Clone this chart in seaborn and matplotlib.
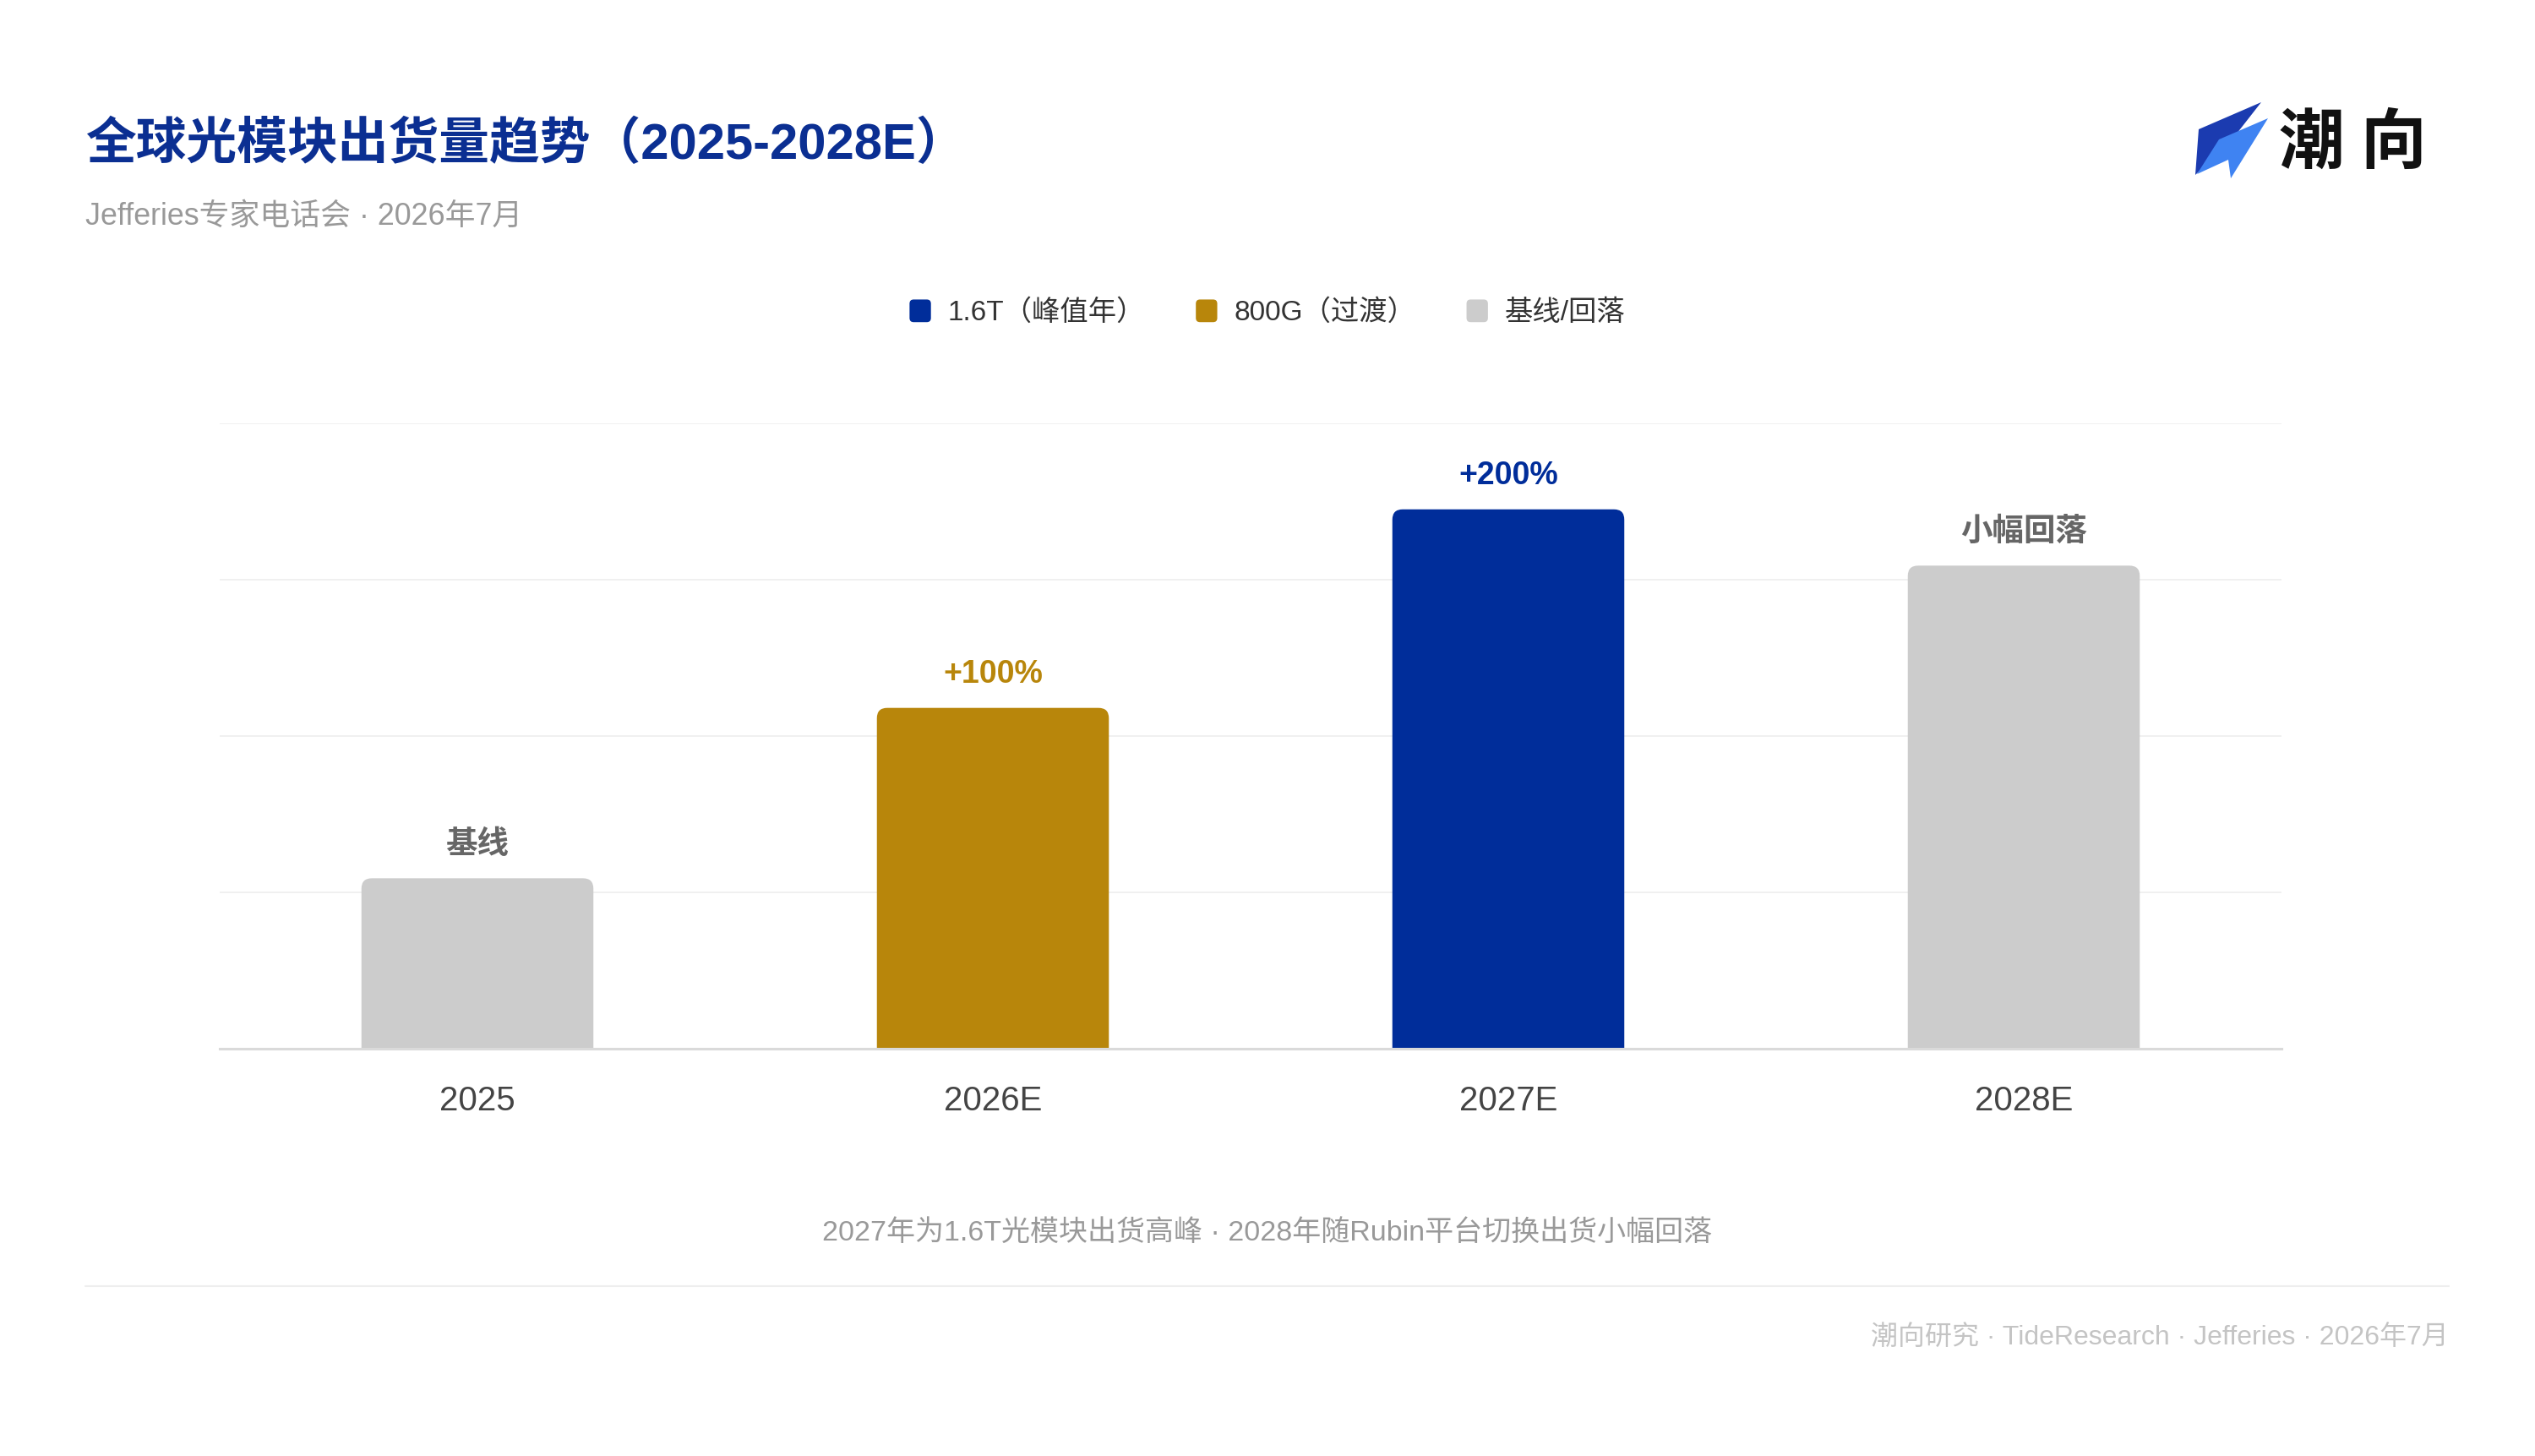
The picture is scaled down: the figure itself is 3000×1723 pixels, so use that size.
import matplotlib
matplotlib.use("Agg")
import matplotlib.pyplot as plt
import seaborn as sns
import pandas as pd
from matplotlib.patches import FancyBboxPatch, Polygon, Patch
from matplotlib.lines import Line2D
from matplotlib.legend_handler import HandlerPatch

# ---- data ----
years = ['2025', '2026E', '2027E', '2028E']
shipments = [1.09, 2.18, 3.45, 3.09]
bar_tags = ['基线', '+100%', '+200%', '小幅回落']
series = ['基线/回落', '800G（过渡）', '1.6T（峰值年）', '基线/回落']
legend_order = ['1.6T（峰值年）', '800G（过渡）', '基线/回落']
series_colors = {'1.6T（峰值年）': '#002D9A', '800G（过渡）': '#B8860B', '基线/回落': '#CCCCCC'}
tag_colors = {'1.6T（峰值年）': '#002D9A', '800G（过渡）': '#B8860B', '基线/回落': '#666666'}

title = '全球光模块出货量趋势（2025-2028E）'
subtitle = 'Jefferies专家电话会 · 2026年7月'
caption = '2027年为1.6T光模块出货高峰 · 2028年随Rubin平台切换出货小幅回落'
footer = '潮向研究 · TideResearch · Jefferies · 2026年7月'

df = pd.DataFrame({'year': years, 'value': shipments, 'series': series})

sns.set_theme(style='white')
plt.rcParams['font.family'] = ['Liberation Sans', 'Noto Sans CJK SC', 'DejaVu Sans']

W, H = 3000, 1724
fig = plt.figure(figsize=(W / 100, H / 100), dpi=100)
fig.patch.set_facecolor('white')

def fx(px):
    return px / W

def fy(py):
    return 1 - py / H

ax = fig.add_axes([fx(260), fy(1242), (2700 - 260) / W, (1242 - 502) / H])
sns.barplot(data=df, x='year', y='value', hue='series', palette=series_colors,
            width=0.45, dodge=False, legend=False, ax=ax, saturation=1)
ax.set_xlim(-0.5, 3.5)
ax.set_ylim(0, 4)
ax.set_yticks([1, 2, 3, 4])
ax.set_yticklabels([])
ax.yaxis.grid(True, color='#F0F0F0', linewidth=1.4)
ax.set_axisbelow(True)
for s in ['top', 'right', 'left']:
    ax.spines[s].set_visible(False)
ax.spines['bottom'].set_color('#DADADA')
ax.spines['bottom'].set_linewidth(2.2)
ax.spines['bottom'].set_zorder(5)
ax.tick_params(axis='x', length=0, pad=30, labelsize=29, labelcolor='#444444')
ax.tick_params(axis='y', length=0)
ax.set_xlabel('')
ax.set_ylabel('')

# rounded top corners
rx = 0.02
aspect = 3.3
ry = rx * aspect
for p in list(ax.patches):
    x0, y0 = p.get_x(), p.get_y()
    w, h = p.get_width(), p.get_height()
    fc = p.get_facecolor()
    p.set_visible(False)
    rp = FancyBboxPatch((x0, y0 - ry), w, h + ry,
                        boxstyle=f'round,pad=0,rounding_size={rx}',
                        mutation_aspect=aspect, facecolor=fc, edgecolor='none',
                        zorder=3, clip_on=True)
    ax.add_patch(rp)

for i, (v, t, s) in enumerate(zip(shipments, bar_tags, series)):
    ax.annotate(t, xy=(i, v), xytext=(0, 29), textcoords='offset points',
                ha='center', va='center', fontsize=27, fontweight='bold',
                color=tag_colors[s], annotation_clip=False)

# legend with rounded squares
class RoundHandler(HandlerPatch):
    def create_artists(self, legend, orig_handle, xdescent, ydescent,
                       width, height, fontsize, trans):
        p = FancyBboxPatch((-xdescent, -ydescent - 1), width, height,
                           boxstyle='round,pad=0,rounding_size=3.5',
                           facecolor=orig_handle.get_facecolor(),
                           edgecolor='none', transform=trans)
        return [p]

handles = [Patch(facecolor=series_colors[k]) for k in legend_order]
fig.legend(handles, legend_order, loc='center', bbox_to_anchor=(0.5, fy(370)),
           ncol=3, frameon=False, fontsize=24, handlelength=0.76,
           handleheight=0.86, handletextpad=0.6, columnspacing=1.8,
           labelcolor='#333333',
           handler_map={Patch: RoundHandler()})

# titles
fig.text(fx(101), fy(171), title, fontsize=43, fontweight='bold',
         color='#0B2F92', ha='left', va='center')
fig.text(fx(101), fy(256), subtitle, fontsize=25.8, color='#999999',
         ha='left', va='center')

# logo
dark = [(2602, 154), (2676, 122), (2640, 168), (2598, 208)]
light = [(2626, 166), (2684, 141), (2640, 212), (2637, 190), (2600, 207)]
fig.patches.append(Polygon([(fx(a), fy(b)) for a, b in dark], closed=True,
                           facecolor='#1B3BB0', edgecolor='none',
                           transform=fig.transFigure, figure=fig))
fig.patches.append(Polygon([(fx(a), fy(b)) for a, b in light], closed=True,
                           facecolor='#3F83F2', edgecolor='none',
                           transform=fig.transFigure, figure=fig))
fig.text(fx(2735), fy(172), '潮', fontsize=56, fontweight='bold', color='#111111',
         ha='center', va='center')
fig.text(fx(2832), fy(172), '向', fontsize=56, fontweight='bold', color='#111111',
         ha='center', va='center')

# caption, separator, footer
fig.text(0.5, fy(1459), caption, fontsize=24.5, color='#999999', ha='center', va='center')
fig.add_artist(Line2D([fx(101), fx(2898)], [fy(1523), fy(1523)],
                      transform=fig.transFigure, color='#EEEEEE', linewidth=1.5))
fig.text(fx(2898), fy(1584), footer, fontsize=23, color='#C4C4C4', ha='right', va='center')

fig.savefig('out.png', dpi=100, facecolor='white')
